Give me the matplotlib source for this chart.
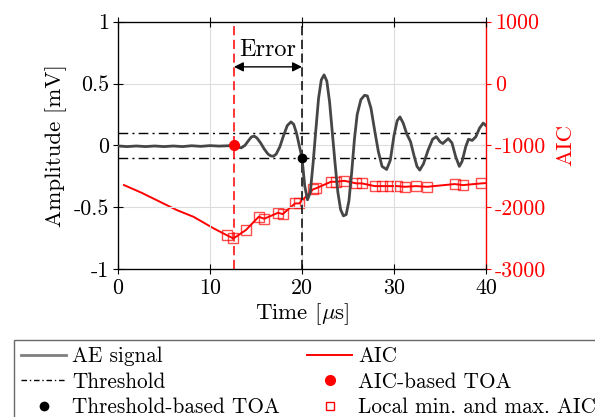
import matplotlib
matplotlib.use('Agg')
import matplotlib.pyplot as plt
from matplotlib.lines import Line2D

plt.rcParams['font.family'] = 'cmr10'
plt.rcParams['mathtext.fontset'] = 'cm'
plt.rcParams['axes.unicode_minus'] = False
plt.rcParams['axes.formatter.use_mathtext'] = True

# ---------------- data ----------------
sig_t = [0, 1, 2, 3, 4, 5, 6, 7, 8, 9, 10, 11, 12, 12.6,
         13.0, 13.4, 13.8, 14.2, 14.5, 14.8, 15.1, 15.5, 15.9, 16.3, 16.6, 16.9, 17.2, 17.6,
         18.0, 18.4, 18.8, 19.1, 19.4, 19.7, 20.0, 20.3, 20.6, 20.9, 21.2, 21.5, 21.8, 22.1,
         22.4, 22.7, 23.0, 23.3, 23.6, 23.9, 24.2, 24.5, 24.8, 25.1, 25.4, 25.7, 26.0, 26.4,
         26.8, 27.1, 27.5, 27.9, 28.3, 28.7, 29.2, 29.6, 30.0, 30.35, 30.65, 31.0, 31.4, 31.8,
         32.2, 32.5, 32.8, 33.2, 33.7, 34.2, 34.6, 35.0, 35.3, 35.9, 36.3, 36.7, 37.1, 37.4,
         37.8, 38.1, 38.5, 38.9, 39.3, 39.7, 40.0]
sig_a = [-0.005, -0.01, -0.005, -0.01, -0.005, -0.01, -0.005, -0.01, -0.003, -0.008, -0.002, -0.006, -0.003, 0.0,
         -0.015, -0.02, 0.0, 0.04, 0.068, 0.075, 0.06, 0.02, -0.03, -0.07, -0.085, -0.088, -0.07, -0.01,
         0.08, 0.16, 0.19, 0.17, 0.10, 0.0, -0.10, -0.33, -0.44, -0.38, -0.15, 0.12, 0.38, 0.53,
         0.57, 0.52, 0.35, 0.10, -0.15, -0.38, -0.52, -0.57, -0.56, -0.45, -0.22, 0.05, 0.25, 0.37,
         0.405, 0.40, 0.30, 0.12, -0.05, -0.17, -0.195, -0.12, 0.08, 0.20, 0.23, 0.18, 0.09, 0.03,
         -0.09, -0.17, -0.20, -0.15, -0.04, 0.05, 0.07, 0.03, 0.015, 0.055, 0.02, -0.09, -0.17, -0.13,
         -0.01, 0.05, 0.04, 0.07, 0.14, 0.18, 0.16]

aic_t = [0.65, 2.57, 6.4, 8.2, 10.4, 11.8, 12.55, 13.9, 15.3, 15.9, 17.4, 17.9, 19.25, 19.7,
         21.2, 21.5, 23.15, 23.75, 24.6, 25.9, 26.5, 27.9, 28.7, 29.6, 30.36, 31.2, 32.4, 33.6,
         36.6, 37.5, 39.5, 40.0]
aic_v = [-1642, -1767, -2047, -2155, -2343, -2451, -2505, -2370, -2155, -2187, -2090, -2112, -1939, -1939,
         -1712, -1696, -1589, -1589, -1573, -1615, -1615, -1659, -1659, -1659, -1659, -1670, -1659, -1670,
         -1626, -1643, -1615, -1610]

ext_t = [11.8, 12.55, 13.9, 15.3, 15.9, 17.4, 17.9, 19.25, 19.7, 21.2, 21.5, 23.15, 23.75, 24.6,
         25.9, 26.5, 27.9, 28.7, 29.6, 30.36, 31.2, 32.4, 33.6, 36.6, 37.5, 39.5]
ext_v = [-2451, -2505, -2370, -2155, -2187, -2090, -2112, -1939, -1939, -1712, -1696, -1589, -1589, -1573,
         -1615, -1615, -1659, -1659, -1659, -1659, -1670, -1659, -1670, -1626, -1643, -1615]

threshold = 0.1
toa_aic = 12.6
toa_thr = 20.0

x_ticks = [0, 10, 20, 30, 40]
x_labels = ['0', '10', '20', '30', '40']
y_ticks = [-1, -0.5, 0, 0.5, 1]
y_labels = ['-1', '-0.5', '0', '0.5', '1']
y2_ticks = [-3000, -2000, -1000, 0, 1000]
y2_labels = ['-3000', '-2000', '-1000', '0', '1000']

# ---------------- figure ----------------
fig = plt.figure(figsize=(5.95, 4.17), dpi=100)
ax = fig.add_axes([0.1983, 0.3549, 0.6185, 0.593])
ax2 = ax.twinx()

fs = 15.8
lgfs = 15.3
lfs = 16.5
sig_col = '#464646'

ax.grid(True, color='#dcdcdc', lw=0.8, zorder=0)
ax.set_axisbelow(True)

ax.plot(sig_t, sig_a, color=sig_col, lw=2.0, zorder=3)
ax.axhline(threshold, color='black', lw=1.0, ls=(0, (7, 3, 1.5, 3)), zorder=2)
ax.axhline(-threshold, color='black', lw=1.0, ls=(0, (7, 3, 1.5, 3)), zorder=2)
ax.axvline(toa_aic, color='red', lw=1.1, ls=(0, (6, 3)), zorder=2)
ax.axvline(toa_thr, color='black', lw=1.1, ls=(0, (6, 3)), zorder=2)

ax2.plot(aic_t, aic_v, color='red', lw=1.4, zorder=3)
ax2.plot(ext_t, ext_v, ls='none', marker='s', ms=7.5, mfc='none', mec='red', mew=1.0, alpha=0.7, zorder=4)

ax.set_zorder(ax2.get_zorder() + 1)
ax.patch.set_visible(False)
ax2.patch.set_visible(True)

ax.plot([toa_aic], [0], 'o', color='red', ms=7, zorder=6)
ax.plot([toa_thr], [-threshold], 'o', color='black', ms=6, zorder=6)

ax.annotate('', xy=(toa_aic, 0.635), xytext=(toa_thr, 0.635),
            arrowprops=dict(arrowstyle='<|-|>', color='black', lw=1.0, mutation_scale=14,
                            shrinkA=0, shrinkB=0), zorder=6)
ax.text((toa_aic + toa_thr) / 2, 0.68, 'Error', ha='center', va='bottom', fontsize=17.5)

ax.set_xlim(0, 40)
ax.set_ylim(-1, 1)
ax2.set_ylim(-3000, 1000)
ax.set_xticks(x_ticks)
ax.set_xticklabels(x_labels, fontsize=fs)
ax.set_yticks(y_ticks)
ax.set_yticklabels(y_labels, fontsize=fs)
ax2.set_yticks(y2_ticks)
ax2.set_yticklabels(y2_labels, fontsize=fs, color='red')

ax.tick_params(axis='both', direction='inout', length=7, width=0.8, top=True, pad=3)
ax2.tick_params(axis='y', direction='inout', length=7, width=0.8, colors='red', pad=3)
for s in ['left', 'top', 'bottom']:
    ax.spines[s].set_linewidth(0.9)
ax2.spines['right'].set_color('red')
ax2.spines['right'].set_linewidth(1.0)
ax.spines['right'].set_visible(False)

ax.set_xlabel(r'Time [$\mu$s]', fontsize=lfs, labelpad=3)
ax.set_ylabel('Amplitude [mV]', fontsize=lfs, labelpad=5)
ax2.set_ylabel('AIC', fontsize=lfs, color='red', labelpad=7)

handles = [
    Line2D([], [], color='#808080', lw=2.0),
    Line2D([], [], color='black', lw=1.0, ls=(0, (4, 2, 1, 2))),
    Line2D([], [], ls='none', marker='o', color='black', ms=6),
    Line2D([], [], color='red', lw=1.4),
    Line2D([], [], ls='none', marker='o', color='red', ms=7),
    Line2D([], [], ls='none', marker='s', mfc='none', mec='red', ms=6, mew=1.0),
]
labels = ['AE signal', 'Threshold', 'Threshold-based TOA', 'AIC', 'AIC-based TOA',
          'Local min. and max. AIC']
leg = fig.legend(handles, labels, ncol=2, loc='upper left',
                 bbox_to_anchor=(0.0235, 1 - 340 / 417),
                 fontsize=lgfs, frameon=True, fancybox=False, edgecolor='#444444',
                 handlelength=2.15, handletextpad=0.28, labelspacing=0.28,
                 borderpad=0.32, borderaxespad=0, columnspacing=1.25)
leg.get_frame().set_linewidth(1.0)

fig.savefig('out.png', dpi=100)
